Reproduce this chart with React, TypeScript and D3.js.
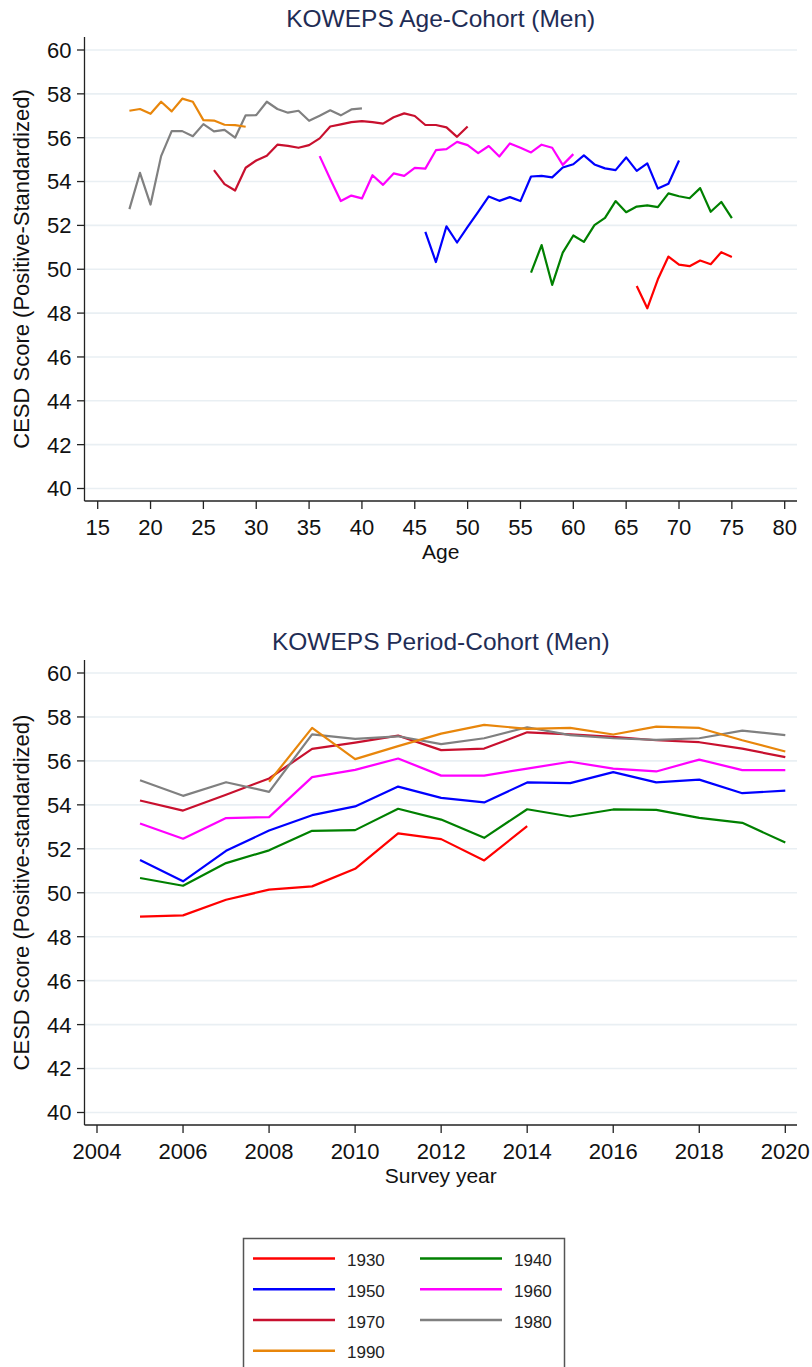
import React from 'react';
import * as d3 from 'd3';

// ---------- Data ----------
const cohorts = ['1930', '1940', '1950', '1960', '1970', '1980', '1990'];
const cohortColors = ['#ff0000', '#008000', '#0000ff', '#ff00ff', '#c8102e', '#808080', '#e8860b'];

// Age-cohort panel: first age of each cohort and its values by single year of age
const ageStart = [66, 56, 46, 36, 26, 18, 18];
const age1930 = [49.24, 48.22, 49.54, 50.58, 50.21, 50.14, 50.40, 50.23, 50.78, 50.56];
const age1940 = [49.85, 51.10, 49.29, 50.76, 51.54, 51.25, 52.01, 52.34, 53.11, 52.60, 52.86, 52.91, 52.83, 53.46, 53.33, 53.24, 53.70, 52.62, 53.07, 52.33];
const age1950 = [51.70, 50.33, 51.96, 51.22, 51.93, 52.62, 53.32, 53.12, 53.29, 53.11, 54.23, 54.26, 54.19, 54.64, 54.79, 55.19, 54.78, 54.60, 54.52, 55.10, 54.49, 54.83, 53.68, 53.90, 54.96];
const age1960 = [55.16, 54.12, 53.11, 53.36, 53.23, 54.29, 53.85, 54.37, 54.26, 54.62, 54.59, 55.43, 55.48, 55.81, 55.66, 55.30, 55.62, 55.14, 55.74, 55.54, 55.33, 55.68, 55.54, 54.76, 55.25];
const age1970 = [54.52, 53.88, 53.59, 54.63, 54.96, 55.18, 55.68, 55.63, 55.54, 55.66, 55.97, 56.51, 56.61, 56.71, 56.76, 56.71, 56.64, 56.93, 57.11, 56.99, 56.58, 56.58, 56.47, 56.04, 56.51];
const age1980 = [52.74, 54.40, 52.95, 55.16, 56.30, 56.30, 56.07, 56.62, 56.29, 56.36, 56.00, 57.02, 57.03, 57.64, 57.31, 57.14, 57.23, 56.77, 57.00, 57.25, 57.02, 57.29, 57.34];
const age1990 = [57.23, 57.31, 57.09, 57.64, 57.20, 57.78, 57.64, 56.80, 56.78, 56.59, 56.57, 56.50];
const ageSeries = [age1930, age1940, age1950, age1960, age1970, age1980, age1990];

// Period-cohort panel: survey years and values
const surveyYears = [2005, 2006, 2007, 2008, 2009, 2010, 2011, 2012, 2013, 2014, 2015, 2016, 2017, 2018, 2019, 2020];
const periodStart = [2005, 2005, 2005, 2005, 2005, 2005, 2008];
const per1930 = [48.91, 48.97, 49.68, 50.14, 50.29, 51.09, 52.70, 52.44, 51.47, 53.03];
const per1940 = [50.67, 50.32, 51.35, 51.93, 52.82, 52.85, 53.82, 53.33, 52.50, 53.80, 53.47, 53.79, 53.77, 53.41, 53.18, 52.29];
const per1950 = [51.49, 50.52, 51.91, 52.83, 53.53, 53.93, 54.83, 54.32, 54.11, 55.02, 54.99, 55.49, 55.02, 55.15, 54.53, 54.65];
const per1960 = [53.15, 52.46, 53.40, 53.44, 55.26, 55.59, 56.11, 55.33, 55.33, 55.65, 55.96, 55.65, 55.52, 56.06, 55.58, 55.58];
const per1970 = [54.20, 53.74, 54.46, 55.20, 56.55, 56.83, 57.15, 56.49, 56.56, 57.30, 57.21, 57.09, 56.94, 56.85, 56.56, 56.17];
const per1980 = [55.12, 54.41, 55.03, 54.59, 57.21, 57.00, 57.12, 56.76, 57.03, 57.53, 57.17, 57.03, 56.96, 57.03, 57.38, 57.17];
const per1990 = [55.05, 57.50, 56.08, 56.67, 57.24, 57.64, 57.46, 57.50, 57.20, 57.56, 57.50, 56.94, 56.43];
const periodSeries = [per1930, per1940, per1950, per1960, per1970, per1980, per1990];

const yTicks = [40, 42, 44, 46, 48, 50, 52, 54, 56, 58, 60];
const ageTicks = [15, 20, 25, 30, 35, 40, 45, 50, 55, 60, 65, 70, 75, 80];
const yearTicks = [2004, 2006, 2008, 2010, 2012, 2014, 2016, 2018, 2020];

// ---------- Layout ----------
const W = 812;
const H = 1367;
const FONT = '"Liberation Sans", Arial, Helvetica, sans-serif';
const TITLE_COLOR = '#1f2d55';
const GRID = '#e9eff3';

type Panel = {
  top: number; // top of y axis line
  bottom: number; // x axis line
  title: string;
  xTitle: string;
  yTitle: string;
};

const left = 84.5;
const right = 797;

function PanelChart({ panel, xScale, xTicks, series, xs }: {
  panel: Panel;
  xScale: d3.ScaleLinear<number, number>;
  xTicks: number[];
  series: number[][];
  xs: (ci: number, i: number) => number;
}) {
  const y = d3.scaleLinear().domain([40, 60]).range([panel.bottom - 12.5, panel.top + 13]);
  const line = (ci: number) =>
    d3
      .line<number>()
      .x((_, i) => xScale(xs(ci, i)))
      .y((v) => y(v))(series[ci]) || '';
  const cx = (left + right) / 2;
  const cy = (panel.top + panel.bottom) / 2;
  return (
    <g>
      <text x={cx} y={panel.top - 10} textAnchor="middle" fontSize={24.5} fill={TITLE_COLOR} fontFamily={FONT}>
        {panel.title}
      </text>
      {yTicks.map((t) => (
        <line key={'g' + t} x1={left} x2={right} y1={y(t)} y2={y(t)} stroke={GRID} strokeWidth={1.6} />
      ))}
      {series.map((_, ci) => (
        <path key={'s' + ci} d={line(ci)} fill="none" stroke={cohortColors[ci]} strokeWidth={2.2} strokeLinejoin="round" />
      ))}
      {/* y axis */}
      <line x1={left} x2={left} y1={panel.top} y2={panel.bottom} stroke="#222" strokeWidth={1.3} />
      {yTicks.map((t) => (
        <g key={'yt' + t}>
          <line x1={left - 7.5} x2={left} y1={y(t)} y2={y(t)} stroke="#222" strokeWidth={1.3} />
          <text x={left - 13} y={y(t)} dy="0.36em" textAnchor="end" fontSize={22} fontFamily={FONT} fill="#111">
            {t}
          </text>
        </g>
      ))}
      {/* x axis */}
      <line x1={left} x2={right} y1={panel.bottom} y2={panel.bottom} stroke="#222" strokeWidth={1.3} />
      {xTicks.map((t) => (
        <g key={'xt' + t}>
          <line x1={xScale(t)} x2={xScale(t)} y1={panel.bottom} y2={panel.bottom + 8} stroke="#222" strokeWidth={1.3} />
          <text x={xScale(t)} y={panel.bottom + 34} textAnchor="middle" fontSize={22} fontFamily={FONT} fill="#111">
            {t}
          </text>
        </g>
      ))}
      <text x={cx} y={panel.bottom + 57.5} textAnchor="middle" fontSize={21} fontFamily={FONT} fill="#111">
        {panel.xTitle}
      </text>
      <text
        transform={`translate(29,${cy}) rotate(-90)`}
        textAnchor="middle"
        fontSize={22}
        fontFamily={FONT}
        fill="#111"
      >
        {panel.yTitle}
      </text>
    </g>
  );
}

export default function App() {
  const topPanel: Panel = {
    top: 37,
    bottom: 501,
    title: 'KOWEPS Age-Cohort (Men)',
    xTitle: 'Age',
    yTitle: 'CESD Score (Positive-Standardized)',
  };
  const botPanel: Panel = {
    top: 660,
    bottom: 1125,
    title: 'KOWEPS Period-Cohort (Men)',
    xTitle: 'Survey year',
    yTitle: 'CESD Score (Positive-standardized)',
  };
  const xAge = d3.scaleLinear().domain([15, 80]).range([97.7, 784.7]);
  const xYear = d3.scaleLinear().domain([2004, 2020]).range([97, 785.3]);

  // legend
  const legCols = [253, 420];
  const legRowY = [1258.5, 1289.3, 1320, 1350.8];

  return (
    <svg
      width={W}
      height={H}
      viewBox={`0 0 ${W} ${H}`}
      style={{ position: 'absolute', left: 0, top: 0, background: '#fff' }}
    >
      <rect x={0} y={0} width={W} height={H} fill="#fff" />
      <PanelChart
        panel={topPanel}
        xScale={xAge}
        xTicks={ageTicks}
        series={ageSeries}
        xs={(ci, i) => ageStart[ci] + i}
      />
      <PanelChart
        panel={botPanel}
        xScale={xYear}
        xTicks={yearTicks}
        series={periodSeries}
        xs={(ci, i) => surveyYears[surveyYears.indexOf(periodStart[ci]) + i]}
      />
      {/* legend */}
      <rect x={243.5} y={1238.5} width={321} height={150} fill="#fff" stroke="#555" strokeWidth={1.5} />
      {cohorts.map((c, i) => {
        const col = i % 2;
        const row = Math.floor(i / 2);
        const lx = legCols[col];
        const ly = legRowY[row];
        return (
          <g key={'leg' + c}>
            <line x1={lx} x2={lx + 82} y1={ly} y2={ly} stroke={cohortColors[i]} strokeWidth={2.4} />
            <text x={lx + 94} y={ly + 1.5} dy="0.36em" fontSize={17} fontFamily={FONT} fill="#222">
              {c}
            </text>
          </g>
        );
      })}
    </svg>
  );
}
